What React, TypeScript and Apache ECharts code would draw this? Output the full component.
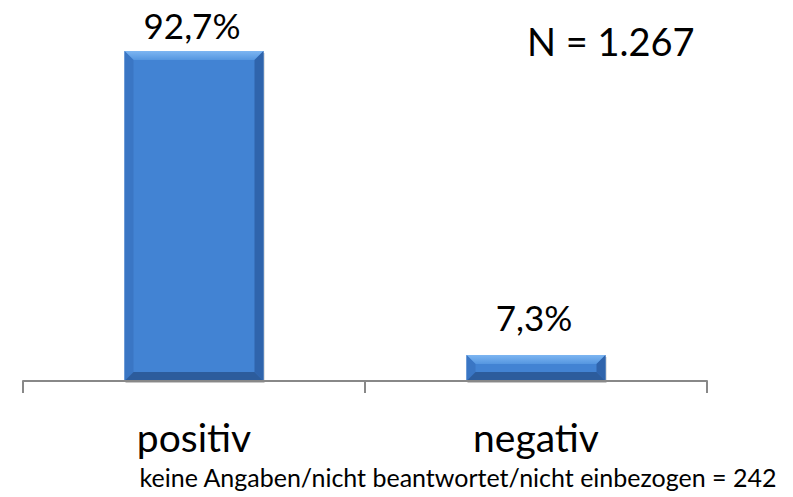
import React, { useEffect, useRef } from "react";
import * as echarts from "echarts";

const categories = ["positiv", "negativ"];
const values = [92.7, 7.3];
const valueLabels = ["92,7%", "7,3%"];
const nText = "N = 1.267";
const footnote = "keine Angaben/nicht beantwortet/nicht einbezogen = 242";

const FONT = "Lato";

export default function App() {
  const ref = useRef<HTMLDivElement>(null);
  useEffect(() => {
    if (!ref.current) return;
    const chart = echarts.init(ref.current, undefined, { renderer: "svg" });
    const BAR_W = 139;
    const BEV = 9;
    const renderItem = (params: any, api: any) => {
      const idx = api.value(0);
      const val = api.value(1);
      const top = api.coord([idx, val]);
      const base = api.coord([idx, 0]);
      const x0 = top[0] - BAR_W / 2;
      const x1 = top[0] + BAR_W / 2;
      const y0 = top[1];
      const y1 = base[1];
      const h = y1 - y0;
      const b = Math.min(BEV, h / 2);
      const baseline = Math.max(y0 - 25, 38);
      return {
        type: "group",
        children: [
          {
            type: "rect",
            shape: { x: x0 + 1, y: y0 + 2, width: BAR_W, height: h },
            style: { fill: "rgba(0,0,0,0.22)" },
            z2: 0,
          },
          {
            type: "rect",
            shape: { x: x0, y: y0, width: BAR_W, height: h },
            style: { fill: "#4283D3" },
            z2: 1,
          },
          {
            type: "polygon",
            shape: { points: [[x0, y0], [x1, y0], [x1 - b, y0 + b], [x0 + b, y0 + b]] },
            style: {
              fill: new echarts.graphic.LinearGradient(0, 0, 0, 1, [
                { offset: 0, color: "#7DB6F2" },
                { offset: 1, color: "#5596E0" },
              ]),
            },
            z2: 2,
          },
          {
            type: "polygon",
            shape: { points: [[x0, y0], [x0 + b, y0 + b], [x0 + b, y1 - b], [x0, y1]] },
            style: { fill: "#3A76C4" },
            z2: 2,
          },
          {
            type: "polygon",
            shape: { points: [[x1, y0], [x1 - b, y0 + b], [x1 - b, y1 - b], [x1, y1]] },
            style: { fill: "#2F64AC" },
            z2: 2,
          },
          {
            type: "polygon",
            shape: { points: [[x0, y1], [x0 + b, y1 - b], [x1 - b, y1 - b], [x1, y1]] },
            style: { fill: "#2C5C9C" },
            z2: 2,
          },
          {
            type: "text",
            style: {
              text: valueLabels[idx],
              x: top[0] - 2,
              y: baseline + 4,
              align: "center",
              verticalAlign: "bottom",
              fontFamily: FONT,
              fontSize: 35,
              fill: "#000",
            },
            z2: 3,
          },
        ],
      };
    };
    chart.setOption({
      animation: false,
      backgroundColor: "#ffffff",
      grid: { left: 23, right: 86, top: 25, bottom: 116, containLabel: false },
      xAxis: {
        type: "category",
        data: categories,
        axisLine: { lineStyle: { color: "#888888", width: 2 } },
        axisTick: { show: true, length: 12, lineStyle: { color: "#888888", width: 2 } },
        axisLabel: { fontFamily: FONT, fontSize: 39, color: "#000", margin: 36 },
        z: 10,
      },
      yAxis: {
        type: "value",
        min: 0,
        max: 100,
        show: false,
        splitLine: { show: false },
      },
      series: [
        {
          type: "custom",
          renderItem,
          data: values.map((v, i) => [i, v]),
          encode: { x: 0, y: 1 },
          z: 2,
        },
      ],
      graphic: [
        {
          type: "text",
          left: 527,
          top: 22,
          style: { text: nText, fontFamily: FONT, fontSize: 38, fill: "#000" },
        },
        {
          type: "text",
          x: 458,
          y: 477,
          style: {
            text: footnote,
            fontFamily: FONT,
            fontSize: 25,
            fill: "#000",
            align: "center",
            verticalAlign: "middle",
          },
        },
      ],
    });
    return () => chart.dispose();
  }, []);
  return <div ref={ref} style={{ width: 793, height: 497, position: "absolute", left: 0, top: 0 }} />;
}
